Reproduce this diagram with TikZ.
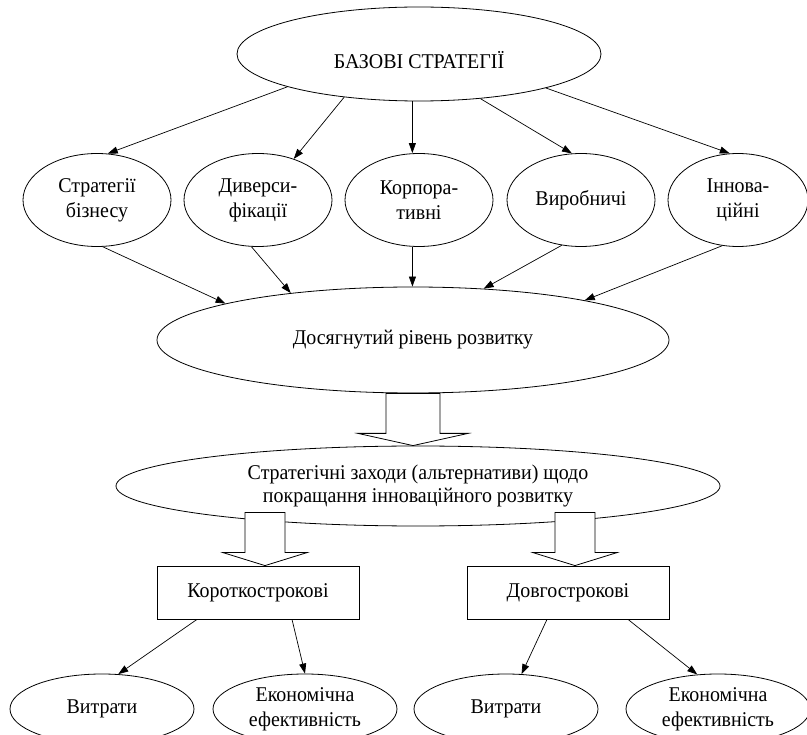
\documentclass[tikz,border=0pt]{standalone}
\usepackage{fontspec}
\setmainfont{Liberation Serif}[FakeStretch=0.95]
\usetikzlibrary{shapes.geometric,arrows.meta,calc}
\begin{document}
\begin{tikzpicture}[x=1pt,y=-1pt,
  every node/.style={font=\fontsize{21}{25}\selectfont},
  ell/.style={draw, ellipse, inner sep=0pt, line width=0.8pt, align=center},
  rectbox/.style={draw, rectangle, inner sep=0pt, line width=0.8pt, minimum width=202pt, minimum height=53pt},
  arr/.style={-{Triangle[length=10pt,width=7pt]}, line width=0.7pt},
  hollow/.style={draw, fill=white, line width=0.8pt, line join=miter}]
\useasboundingbox (0,0) rectangle (807,735);
\clip (0,0) rectangle (807,735);

% nodes
\node[ell, minimum width=364pt, minimum height=94pt, text height=29pt, text depth=0pt] (top) at (419,54) {БАЗОВІ СТРАТЕГІЇ};

\node[ell, minimum width=148pt, minimum height=93pt] (c1) at (97,200) {Стратегії\\бізнесу};
\node[ell, minimum width=148pt, minimum height=93pt] (c2) at (258,200) {Диверси-\\фікації};
\node[ell, minimum width=148pt, minimum height=93pt] (c3) at (419,200) {Корпора-\\тивні};
\node[ell, minimum width=148pt, minimum height=93pt] (c4) at (581,200) {Виробничі};
\node[ell, minimum width=140pt, minimum height=93pt] (c5) at (738,200) {Іннова-\\ційні};

\node[ell, minimum width=512pt, minimum height=106pt] (m1) at (413,340) {Досягнутий рівень розвитку};
\node[ell, minimum width=604pt, minimum height=80pt, font=\fontsize{21}{23.5}\selectfont] (m2) at (418,486) {Стратегічні заходи (альтернативи) щодо\\покращання інноваційного розвитку};

\node[rectbox] (b1) at (258,592.5) {Короткострокові};
\node[rectbox] (b2) at (568,592.5) {Довгострокові};

\node[ell, minimum width=184pt, minimum height=70pt] (e1) at (102,709) {Витрати};
\node[ell, minimum width=184pt, minimum height=70pt] (e2) at (305,709) {Економічна\\ефективність};
\node[ell, minimum width=184pt, minimum height=70pt] (e3) at (506,709) {Витрати};
\node[ell, minimum width=184pt, minimum height=70pt] (e4) at (718,709) {Економічна\\ефективність};

% top -> circles
\draw[arr] (top.194.9) -- (c1.77.7);
\draw[arr] (top.210.5) -- (c2.49.5);
\draw[arr] (top.262.7) -- (top.262.7 |- c3.north);
\draw[arr] (top.324) -- (c4.101);
\draw[arr] (top.345.6) -- (c5.100);

% circles -> m1
\draw[arr] (c1.277.4) -- (m1.169.8);
\draw[arr] (c2.262.6) -- (m1.159.3);
\draw[arr] (c3.262.6) -- (c3.262.6 |- m1.north);
\draw[arr] (c4.247) -- (m1.36.1);
\draw[arr] (c5.251.8) -- (m1.13.8);

% hollow arrow m1 -> m2
\draw[hollow] ($(m1.south)+(-27,0)$) -- ($(m1.south)+(-27,40)$) -- ($(m1.south)+(-55,40)$)
  -- (m1.south |- m2.north) -- ($(m1.south)+(55,40)$) -- ($(m1.south)+(27,40)$)
  -- ($(m1.south)+(27,0)$) -- cycle;

% hollow arrows m2 -> boxes
\coordinate (t1) at ($(b1.north)+(7,0)$);
\coordinate (t2) at ($(b2.north)+(7,0)$);
\draw[hollow] ($(t1)+(-20,-53)$) -- ($(t1)+(-20,-13)$) -- ($(t1)+(-42,-13)$) -- (t1)
  -- ($(t1)+(42,-13)$) -- ($(t1)+(20,-13)$) -- ($(t1)+(20,-53)$) -- cycle;
\draw[hollow] ($(t2)+(-20,-53)$) -- ($(t2)+(-20,-13)$) -- ($(t2)+(-42,-13)$) -- (t2)
  -- ($(t2)+(42,-13)$) -- ($(t2)+(20,-13)$) -- ($(t2)+(20,-53)$) -- cycle;

% boxes -> bottom ellipses
\draw[arr] ([xshift=-61pt]b1.south) -- (e1.65.1);
\draw[arr] ([xshift=34pt]b1.south) -- (e2.90);
\draw[arr] ([xshift=-21pt]b2.south) -- (e3.66.5);
\draw[arr] ([xshift=60pt]b2.south) -- (e4.121.6);
\end{tikzpicture}
\end{document}
